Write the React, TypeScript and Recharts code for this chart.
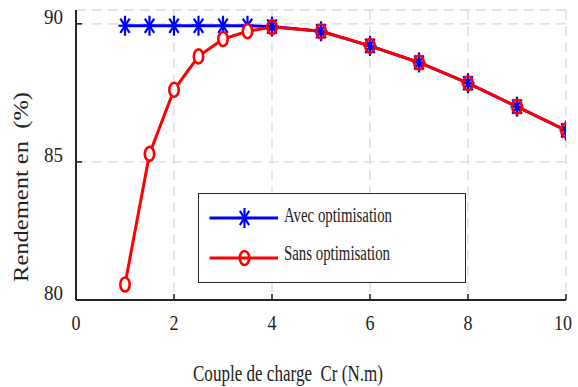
import React from 'react';
import { LineChart, Line, XAxis, YAxis, CartesianGrid, Legend, Label } from 'recharts';

const couple = [1, 1.5, 2, 2.5, 3, 3.5, 4, 5, 6, 7, 8, 9, 10];
const avecOptimisation = [89.93, 89.93, 89.93, 89.93, 89.93, 89.93, 89.9, 89.73, 89.2, 88.6, 87.85, 87.0, 86.14];
const sansOptimisation = [80.56, 85.29, 87.61, 88.82, 89.45, 89.73, 89.88, 89.73, 89.2, 88.6, 87.85, 87.0, 86.14];
const xTicks = [0, 2, 4, 6, 8, 10];
const yTicks = [80, 85, 90];
const seriesNames = ['Avec optimisation', 'Sans optimisation'];
const xLabel = 'Couple de charge\u00a0\u00a0Cr (N.m)';
const yLabel = 'Rendement en\u00a0\u00a0(%)';

const data = couple.map((c, i) => ({ couple: c, avec: avecOptimisation[i], sans: sansOptimisation[i] }));

const FRAME = '#262626';
const TEXT = '#222222';
const BLUE = '#0000ff';
const RED = '#ff0000';
const FONT = 'Liberation Serif';
const textStyle = { fontFamily: FONT, fontWeight: 400 as const };

const Asterisk = ({ cx, cy, color }: { cx: number; cy: number; color: string }) => {
  const w = 6.5;
  const h = 10;
  return (
    <g stroke={color} strokeWidth={2.2} strokeLinecap="butt">
      <line x1={cx} y1={cy - h} x2={cx} y2={cy + h} />
      <line x1={cx - w} y1={cy} x2={cx + w} y2={cy} />
      <line x1={cx - w * 0.72} y1={cy - h * 0.72} x2={cx + w * 0.72} y2={cy + h * 0.72} />
      <line x1={cx - w * 0.72} y1={cy + h * 0.72} x2={cx + w * 0.72} y2={cy - h * 0.72} />
    </g>
  );
};

const Ring = ({ cx, cy, fill }: { cx: number; cy: number; fill: string }) => (
  <ellipse cx={cx} cy={cy} rx={4.7} ry={7} fill={fill} stroke={RED} strokeWidth={2.6} />
);

const blueDot = (props: any) => {
  const { cx, cy, index } = props;
  if (cx == null || cy == null) return <g key={`b${index}`} />;
  return (
    <g key={`b${index}`}>
      <Asterisk cx={cx} cy={cy} color={BLUE} />
    </g>
  );
};

const redDot = (props: any) => {
  const { cx, cy, index, payload } = props;
  if (cx == null || cy == null) return <g key={`r${index}`} />;
  const overlap = Math.abs(payload.avec - payload.sans) < 0.1;
  return (
    <g key={`r${index}`}>
      <Ring cx={cx} cy={cy} fill={overlap ? 'none' : '#ffffff'} />
    </g>
  );
};

const digitWidth = 9.0;

const XTickBottom = (props: any) => {
  const { x, y, payload } = props;
  const s = String(payload.value);
  const w = s.length * digitWidth;
  const cxText = Math.min(x, 572 - w / 2);
  return (
    <g>
      <line x1={x} y1={y} x2={x} y2={y - 6} stroke={FRAME} strokeWidth={1.6} />
      <text
        x={cxText}
        y={y + 30}
        textAnchor="middle"
        fontFamily={FONT}
        style={textStyle}
        fontSize={22}
        fill={TEXT}
        textLength={w}
        lengthAdjust="spacingAndGlyphs"
      >
        {s}
      </text>
    </g>
  );
};

const XTickTop = (props: any) => {
  const { x, y } = props;
  return <line x1={x} y1={y} x2={x} y2={y + 6} stroke={FRAME} strokeWidth={1.6} />;
};

const YTickLeft = (props: any) => {
  const { x, y, payload } = props;
  const s = String(payload.value);
  return (
    <g>
      <line x1={x} y1={y} x2={x + 6} y2={y} stroke={FRAME} strokeWidth={1.6} />
      <text
        x={x - 13}
        y={y}
        textAnchor="end"
        fontFamily={FONT}
        style={textStyle}
        fontSize={22}
        fill={TEXT}
        textLength={s.length * 9.5}
        lengthAdjust="spacingAndGlyphs"
      >
        {s}
      </text>
    </g>
  );
};

const YTickRight = (props: any) => {
  const { x, y } = props;
  return <line x1={x} y1={y} x2={x - 6} y2={y} stroke={FRAME} strokeWidth={1.6} />;
};

const renderLegend = (props: any) => {
  const payload = (props && props.payload) || [];
  const items = seriesNames.map((name, i) => {
    const p = payload.find((e: any) => e.value === name);
    return { name, color: p ? p.color : i === 0 ? BLUE : RED };
  });
  const rows = [24, 64];
  const baselines = [27.7, 65.6];
  const widths = [108, 106];
  return (
    <div
      style={{
        width: 268,
        height: 90,
        border: `1.6px solid ${FRAME}`,
        boxSizing: 'border-box',
        background: '#ffffff',
      }}
    >
      <svg width={265} height={87} style={{ display: 'block' }}>
        {items.map((it, i) => (
          <g key={it.name}>
            <line x1={10.5} y1={rows[i]} x2={79} y2={rows[i]} stroke={it.color} strokeWidth={3.2} />
            {i === 0 ? (
              <Asterisk cx={45.5} cy={rows[i]} color={it.color} />
            ) : (
              <Ring cx={45.5} cy={rows[i]} fill="none" />
            )}
            <text
              x={85}
              y={baselines[i]}
              fontFamily={FONT}
              style={textStyle}
              fontSize={20}
              fill={TEXT}
              textLength={widths[i]}
              lengthAdjust="spacingAndGlyphs"
            >
              {it.name}
            </text>
          </g>
        ))}
      </svg>
    </div>
  );
};

export default function App() {
  return (
    <div style={{ position: 'absolute', left: 0, top: 0, width: 578, height: 387, background: '#ffffff' }}>
      <LineChart width={578} height={387} data={data} margin={{ top: 10, right: 12, left: 0, bottom: 0 }}>
        <CartesianGrid stroke="#d9d9d9" strokeWidth={1.3} strokeDasharray="10 6" />
        <XAxis
          dataKey="couple"
          type="number"
          domain={[0, 10]}
          ticks={xTicks}
          allowDataOverflow
          height={87}
          tickSize={0}
          tickMargin={0}
          tickLine={false}
          axisLine={{ stroke: FRAME, strokeWidth: 2 }}
          tick={XTickBottom}
          interval={0}
        >
          <Label
            content={() => (
              <text
                x={193}
                y={381}
                fontFamily={FONT}
                style={textStyle}
                fontSize={24}
                fill={TEXT}
                textLength={190}
                lengthAdjust="spacingAndGlyphs"
              >
                {xLabel}
              </text>
            )}
          />
        </XAxis>
        <XAxis
          xAxisId="top"
          orientation="top"
          dataKey="couple"
          type="number"
          domain={[0, 10]}
          ticks={xTicks}
          allowDataOverflow
          height={0}
          tickSize={0}
          tickMargin={0}
          tickLine={false}
          axisLine={{ stroke: FRAME, strokeWidth: 2 }}
          tick={XTickTop}
          interval={0}
        />
        <YAxis
          type="number"
          domain={[80, 90.5]}
          ticks={yTicks}
          allowDataOverflow
          width={76}
          tickSize={0}
          tickMargin={0}
          tickLine={false}
          axisLine={{ stroke: FRAME, strokeWidth: 2 }}
          tick={YTickLeft}
          interval={0}
        >
          <Label
            content={() => (
              <text
                x={28}
                y={187}
                textAnchor="middle"
                transform="rotate(-90, 28, 187)"
                fontFamily={FONT}
                style={textStyle}
                fontSize={20}
                fill={TEXT}
                textLength={190}
                lengthAdjust="spacingAndGlyphs"
              >
                {yLabel}
              </text>
            )}
          />
        </YAxis>
        <YAxis
          yAxisId="right"
          orientation="right"
          type="number"
          domain={[80, 90.5]}
          ticks={yTicks}
          allowDataOverflow
          width={0}
          tickSize={0}
          tickMargin={0}
          tickLine={false}
          axisLine={{ stroke: FRAME, strokeWidth: 2 }}
          tick={YTickRight}
          interval={0}
        />
        <Legend
          layout="vertical"
          align="center"
          verticalAlign="middle"
          wrapperStyle={{ position: 'absolute', left: 198, top: 193, width: 268, height: 90 }}
          content={renderLegend}
        />
        <Line
          name={seriesNames[0]}
          dataKey="avec"
          stroke={BLUE}
          strokeWidth={3}
          dot={blueDot}
          activeDot={false}
          isAnimationActive={false}
        />
        <Line
          name={seriesNames[1]}
          dataKey="sans"
          stroke={RED}
          strokeWidth={3}
          dot={redDot}
          activeDot={false}
          isAnimationActive={false}
        />
      </LineChart>
    </div>
  );
}
